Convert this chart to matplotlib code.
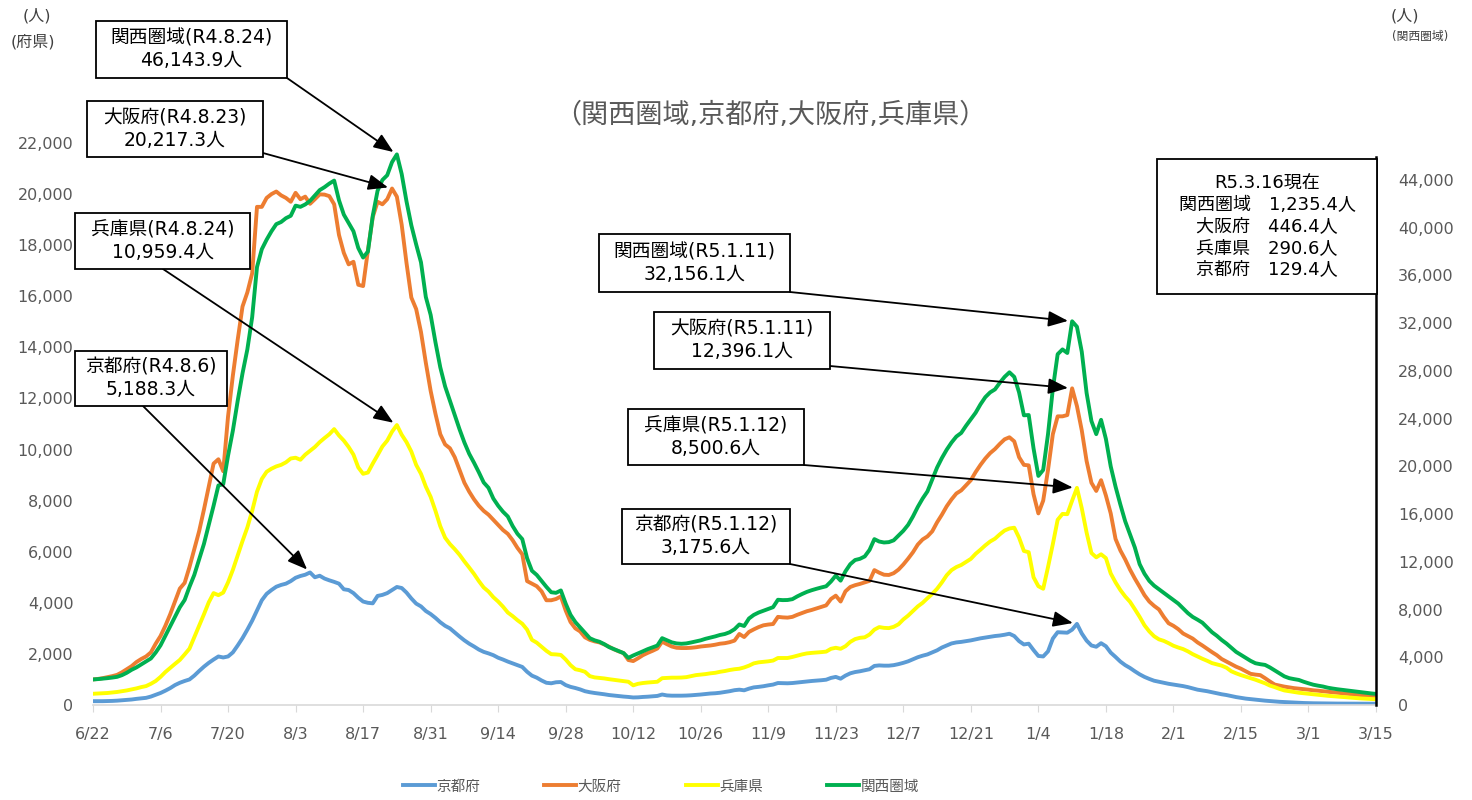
import matplotlib
matplotlib.use('Agg')
import matplotlib.pyplot as plt
import matplotlib.patches as patches
import matplotlib.dates as mdates
from matplotlib.ticker import FuncFormatter
import pandas as pd

plt.rcParams['font.family'] = ['DejaVu Sans', 'Noto Sans CJK JP']

# 新規陽性者数の推移  2022/6/22 - 2023/3/15
start = '2022-06-22'

kyoto = [
    150, 150, 150, 155, 160, 170, 185, 200, 215, 240, 260, 280, 330, 400,
    470, 560, 660, 780, 870, 940, 1000, 1150, 1330, 1500, 1650, 1780, 1900, 1860,
    1900, 2060, 2330, 2620, 2950, 3300, 3700, 4100, 4350, 4500, 4630, 4700, 4750, 4850,
    4980, 5050, 5100, 5188.3, 5000, 5060, 4950, 4880, 4820, 4750, 4530, 4500, 4380, 4200,
    4050, 4000, 3980, 4270, 4310, 4380, 4500, 4620, 4580, 4400, 4170, 3970, 3860, 3680,
    3560, 3410, 3240, 3100, 3000, 2840, 2680, 2530, 2400, 2290, 2170, 2080, 2020, 1950,
    1850, 1780, 1700, 1630, 1560, 1490, 1300, 1150, 1070, 960, 870, 850, 890, 900,
    780, 710, 665, 610, 540, 500, 470, 445, 420, 390, 370, 350, 330, 315,
    295, 300, 315, 325, 340, 355, 410, 375, 365, 365, 365, 370, 380, 395,
    410, 430, 450, 460, 480, 510, 540, 580, 600, 575, 640, 690, 710, 735,
    770, 800, 860, 855, 850, 860, 880, 900, 920, 940, 955, 970, 990, 1060,
    1100, 1030, 1150, 1240, 1290, 1320, 1360, 1400, 1530, 1550, 1540, 1540, 1560, 1600,
    1650, 1710, 1790, 1870, 1930, 1980, 2060, 2140, 2250, 2330, 2410, 2450, 2470, 2500,
    2530, 2570, 2610, 2640, 2670, 2700, 2720, 2750, 2790, 2700, 2500, 2370, 2400, 2150,
    1920, 1900, 2100, 2600, 2850, 2840, 2830, 2950, 3175.6, 2800, 2520, 2330, 2280, 2420,
    2300, 2050, 1880, 1700, 1560, 1450, 1320, 1200, 1100, 1020, 950, 910, 870, 830,
    800, 770, 740, 700, 650, 600, 570, 540, 500, 460, 420, 390, 350, 310,
    280, 250, 230, 210, 190, 170, 155, 140, 125, 115, 105, 95, 85, 78,
    72, 68, 65, 62, 60, 58, 56, 55, 54, 53, 52, 51, 50, 50, 50,
]

osaka = [
    1000, 1020, 1050, 1090, 1130, 1180, 1280, 1400, 1520, 1680, 1800, 1900, 2060, 2400,
    2700, 3100, 3550, 4050, 4557, 4780, 5400, 6100, 6800, 7650, 8550, 9450, 9620, 9150,
    11300, 12900, 14300, 15600, 16150, 16900, 19500, 19500, 19850, 20000, 20100, 19950, 19850, 19700,
    20050, 19800, 19900, 19620, 19800, 19990, 19980, 19920, 19600, 18400, 17700, 17250, 17350, 16450,
    16400, 17800, 19100, 19700, 19600, 19800, 20217.3, 19900, 18800, 17300, 15950, 15500, 14600, 13400,
    12300, 11400, 10600, 10200, 10050, 9700, 9200, 8700, 8350, 8050, 7800, 7600, 7450, 7250,
    7050, 6850, 6700, 6450, 6150, 5900, 4850, 4750, 4650, 4450, 4100, 4100, 4150, 4250,
    3700, 3250, 3000, 2880, 2650, 2550, 2490, 2450, 2370, 2280, 2180, 2100, 2030, 1760,
    1720, 1830, 1950, 2040, 2120, 2210, 2480, 2380, 2290, 2240, 2230, 2230, 2240, 2260,
    2290, 2310, 2330, 2360, 2400, 2420, 2460, 2520, 2780, 2660, 2860, 2960, 3050, 3120,
    3150, 3170, 3450, 3430, 3420, 3450, 3530, 3600, 3670, 3720, 3780, 3840, 3900, 4150,
    4280, 4050, 4450, 4620, 4690, 4740, 4800, 4860, 5280, 5180, 5100, 5090, 5160, 5300,
    5500, 5730, 5980, 6280, 6480, 6600, 6800, 7150, 7450, 7780, 8050, 8280, 8400, 8600,
    8800, 9120, 9400, 9650, 9860, 10020, 10220, 10400, 10480, 10320, 9700, 9400, 9380, 8250,
    7500, 8000, 9200, 10600, 11300, 11300, 11350, 12396.1, 11700, 10750, 9550, 8700, 8380, 8800,
    8200, 7500, 6500, 6050, 5700, 5300, 4950, 4630, 4300, 4050, 3880, 3740, 3450, 3200,
    3100, 2970, 2800, 2700, 2600, 2450, 2330, 2200, 2070, 1950, 1800, 1700, 1600, 1500,
    1420, 1320, 1220, 1190, 1170, 1050, 920, 800, 760, 720, 690, 660, 640, 620,
    600, 575, 560, 540, 520, 500, 480, 460, 440, 420, 400, 385, 370, 355, 345,
]

hyogo = [
    440, 450, 460, 470, 490, 510, 540, 570, 610, 650, 700, 740, 830, 940,
    1100, 1290, 1450, 1610, 1764, 1980, 2205, 2650, 3087, 3550, 4020, 4380, 4300, 4400,
    4800, 5292, 5850, 6420, 6950, 7600, 8350, 8850, 9130, 9250, 9340, 9400, 9500, 9650,
    9680, 9600, 9800, 9950, 10100, 10290, 10450, 10600, 10800, 10550, 10350, 10100, 9800, 9300,
    9050, 9100, 9450, 9780, 10120, 10350, 10700, 10959.4, 10580, 10290, 9920, 9400, 9050, 8550,
    8150, 7600, 7000, 6550, 6300, 6100, 5880, 5620, 5380, 5130, 4850, 4600, 4440, 4220,
    4050, 3850, 3620, 3480, 3320, 3180, 2950, 2550, 2440, 2280, 2120, 1990, 1980, 1960,
    1780, 1560, 1400, 1360, 1300, 1130, 1080, 1060, 1040, 1010, 985, 960, 935, 910,
    770, 830, 860, 880, 895, 910, 1050, 1060, 1070, 1070, 1075, 1090, 1130, 1170,
    1190, 1210, 1240, 1260, 1300, 1330, 1370, 1400, 1420, 1470, 1540, 1630, 1670, 1690,
    1710, 1740, 1840, 1840, 1840, 1880, 1930, 1980, 2020, 2040, 2055, 2070, 2090, 2200,
    2240, 2200, 2300, 2470, 2580, 2630, 2650, 2760, 2950, 3050, 3020, 3010, 3060, 3160,
    3350, 3500, 3680, 3860, 4000, 4180, 4350, 4550, 4800, 5080, 5280, 5400, 5480, 5600,
    5720, 5920, 6080, 6250, 6400, 6510, 6680, 6830, 6910, 6940, 6550, 6030, 5980, 5000,
    4650, 4550, 5400, 6300, 7250, 7480, 7470, 8000, 8500.6, 7700, 6750, 5950, 5780, 5900,
    5750, 5150, 4800, 4500, 4250, 4040, 3750, 3450, 3120, 2880, 2690, 2570, 2510, 2420,
    2320, 2250, 2190, 2100, 1990, 1900, 1810, 1730, 1640, 1590, 1540, 1460, 1320, 1240,
    1170, 1110, 1050, 990, 920, 850, 760, 700, 630, 570, 540, 510, 480, 460,
    440, 420, 400, 380, 360, 345, 330, 315, 300, 285, 270, 255, 245, 235, 225,
]

kansai = [
    2140, 2170, 2210, 2250, 2300, 2360, 2500, 2700, 2950, 3150, 3400, 3650, 3900, 4400,
    5000, 5800, 6600, 7400, 8190, 8800, 9900, 10900, 12200, 13500, 15100, 16700, 18400, 18500,
    20900, 23000, 25500, 27800, 29800, 32500, 36700, 38200, 39000, 39700, 40300, 40480, 40800, 41000,
    41850, 41750, 41950, 42250, 42700, 43150, 43400, 43700, 43950, 42300, 41100, 40400, 39700, 38300,
    37500, 38000, 41000, 43100, 44000, 44400, 45500, 46143.9, 44500, 42200, 40200, 38600, 37100, 34200,
    32700, 30400, 28300, 26700, 25500, 24300, 23100, 22000, 21050, 20300, 19500, 18650, 18200, 17300,
    16700, 16200, 15800, 15000, 14350, 13900, 12300, 11250, 10900, 10400, 9900, 9450, 9400, 9600,
    8500, 7560, 6950, 6500, 6050, 5600, 5420, 5300, 5100, 4850, 4680, 4500, 4350, 3950,
    4150, 4320, 4500, 4680, 4830, 4980, 5600, 5420, 5250, 5160, 5130, 5160, 5240, 5330,
    5420, 5550, 5650, 5750, 5870, 5950, 6100, 6350, 6750, 6620, 7250, 7550, 7750, 7900,
    8050, 8200, 8820, 8790, 8800, 8870, 9100, 9300, 9480, 9620, 9740, 9850, 9950, 10350,
    10850, 10420, 11200, 11800, 12150, 12250, 12450, 13000, 13900, 13700, 13620, 13650, 13800, 14200,
    14600, 15100, 15800, 16600, 17300, 17900, 18900, 19900, 20700, 21400, 22000, 22500, 22800, 23400,
    23950, 24500, 25200, 25800, 26200, 26450, 27000, 27500, 27880, 27500, 26200, 24280, 24300, 21500,
    19200, 19700, 22700, 26500, 29400, 29800, 29500, 32156.1, 31700, 29600, 26150, 23800, 22700, 23900,
    22300, 20000, 18300, 16800, 15400, 14300, 13200, 11800, 11000, 10400, 10000, 9700, 9400, 9100,
    8800, 8500, 8100, 7700, 7380, 7150, 6900, 6500, 6100, 5800, 5450, 5150, 4800, 4450,
    4200, 3950, 3700, 3500, 3420, 3360, 3150, 2900, 2650, 2400, 2250, 2170, 2100, 1950,
    1820, 1700, 1620, 1550, 1450, 1380, 1320, 1270, 1220, 1170, 1120, 1070, 1020, 970, 930,
]

# ピーク注記（系列名・日付・和暦表記）
peak_names = ['関西圏域', '大阪府', '兵庫県', '京都府', '関西圏域', '大阪府', '兵庫県', '京都府']
peak_dates = ['2022-08-24', '2022-08-23', '2022-08-24', '2022-08-06',
              '2023-01-11', '2023-01-11', '2023-01-12', '2023-01-12']
peak_era = ['R4.8.24', 'R4.8.23', 'R4.8.24', 'R4.8.6', 'R5.1.11', 'R5.1.11', 'R5.1.12', 'R5.1.12']

# 最新値（R5.3.16現在）
latest_label = 'R5.3.16現在'
latest_names = ['関西圏域', '大阪府', '兵庫県', '京都府']
latest_values = [1235.4, 446.4, 290.6, 129.4]

W, H = 1472, 800
dates = pd.date_range(start, periods=len(kyoto), freq='D')
series = {'京都府': kyoto, '大阪府': osaka, '兵庫県': hyogo, '関西圏域': kansai}

fig = plt.figure(figsize=(W / 100, H / 100), dpi=100)
ax = fig.add_axes([93 / W, 95 / H, (1376 - 93) / W, (705 - 143) / H])
ax2 = ax.twinx()

grey = '#595959'
l1, = ax.plot(dates, kyoto, color='#5b9bd5', lw=2.8)
l2, = ax.plot(dates, osaka, color='#ed7d31', lw=2.8)
l3, = ax.plot(dates, hyogo, color='#ffff00', lw=2.8)
l4, = ax2.plot(dates, kansai, color='#00b050', lw=2.8)

ax.set_xlim(dates[0], dates[-1])
ax.set_ylim(0, 22000)
ax2.set_ylim(0, 47100)
ax.set_yticks(range(0, 22001, 2000))
ax2.set_yticks(range(0, 44001, 4000))
fmt = FuncFormatter(lambda v, p: f'{int(v):,}')
ax.yaxis.set_major_formatter(fmt)
ax2.yaxis.set_major_formatter(fmt)

ticks = dates[::14]
ax.set_xticks(ticks)
ax.set_xticklabels([f'{d.month}/{d.day}' for d in ticks])

for s in ['top', 'left', 'right']:
    ax.spines[s].set_visible(False)
ax.spines['bottom'].set_color('#d9d9d9')
ax.spines['bottom'].set_linewidth(1.2)
for s in ['top', 'left', 'bottom']:
    ax2.spines[s].set_visible(False)
ax2.spines['right'].set_color('black')
ax2.spines['right'].set_linewidth(1.8)
ax2.spines['right'].set_bounds(0, 45900)

ax.tick_params(axis='y', length=0, pad=14, labelsize=11.5, labelcolor=grey)
ax2.tick_params(axis='y', length=0, pad=16, labelsize=11.5, labelcolor=grey)
ax.tick_params(axis='x', length=5, color='#d9d9d9', pad=11, labelsize=11.5, labelcolor=grey)

# 注記ボックス（左上原点のピクセル座標）と矢印の始点
box_rects = [(96, 21, 287, 78), (87, 101, 263, 157), (75, 213, 250, 269), (75, 351, 227, 406),
             (599, 234, 790, 292), (654, 312, 830, 369), (628, 409, 804, 465), (622, 509, 790, 564)]
arrow_starts = [(287, 78), (263, 153), (163, 269), (143, 406),
                (790, 292), (830, 366), (804, 465), (790, 564)]


def add_box(rect, text, fontsize=13.5, linespacing=1.25):
    x0, y0, x1, y1 = rect
    fig.add_artist(patches.Rectangle((x0 / W, 1 - y1 / H), (x1 - x0) / W, (y1 - y0) / H,
                                     transform=fig.transFigure, facecolor='white',
                                     edgecolor='black', lw=1.3, zorder=5))
    fig.text((x0 + x1) / 2 / W, 1 - (y0 + y1) / 2 / H, text, ha='center', va='center',
             fontsize=fontsize, linespacing=linespacing, color='black', zorder=6)


for name, day, era, rect, start_px in zip(peak_names, peak_dates, peak_era, box_rects, arrow_starts):
    i = dates.get_loc(pd.Timestamp(day))
    value = series[name][i]
    add_box(rect, f'{name}({era})\n{value:,.1f}人')
    target = ax2 if name == '関西圏域' else ax
    ax2.annotate('', xy=(mdates.date2num(dates[i]), value), xycoords=target.transData,
                 xytext=(start_px[0], H - start_px[1]), textcoords='figure pixels',
                 arrowprops=dict(arrowstyle='-|>,head_length=1.0,head_width=0.4',
                                 color='black', lw=1.3, mutation_scale=12,
                                 shrinkA=0, shrinkB=3),
                 annotation_clip=False)

latest_lines = [latest_label] + [f'{n}\u3000{v:,.1f}人' for n, v in zip(latest_names, latest_values)]
add_box((1157, 159, 1377, 294), '\n'.join(latest_lines), fontsize=13, linespacing=1.25)

fig.text(770 / W, 1 - 116 / H, '（関西圏域,京都府,大阪府,兵庫県）', ha='center', va='center',
         fontsize=19.5, color=grey)
fig.text(37 / W, 1 - 16 / H, '(人)', ha='center', va='center', fontsize=11.5, color='#404040')
fig.text(33 / W, 1 - 42 / H, '(府県)', ha='center', va='center', fontsize=11.5, color='#404040')
fig.text(1405 / W, 1 - 16 / H, '(人)', ha='center', va='center', fontsize=11.5, color='#404040')
fig.text(1420 / W, 1 - 36 / H, '(関西圏域)', ha='center', va='center', fontsize=8.5, color='#404040')

fig.legend([l1, l2, l3, l4], ['京都府', '大阪府', '兵庫県', '関西圏域'], loc='center',
           bbox_to_anchor=(661 / W, 1 - 786 / H), ncol=4, frameon=False, fontsize=10.5,
           handlelength=2.2, handletextpad=0.1, columnspacing=4.4, labelcolor=grey)

fig.savefig('out.png', dpi=100)
